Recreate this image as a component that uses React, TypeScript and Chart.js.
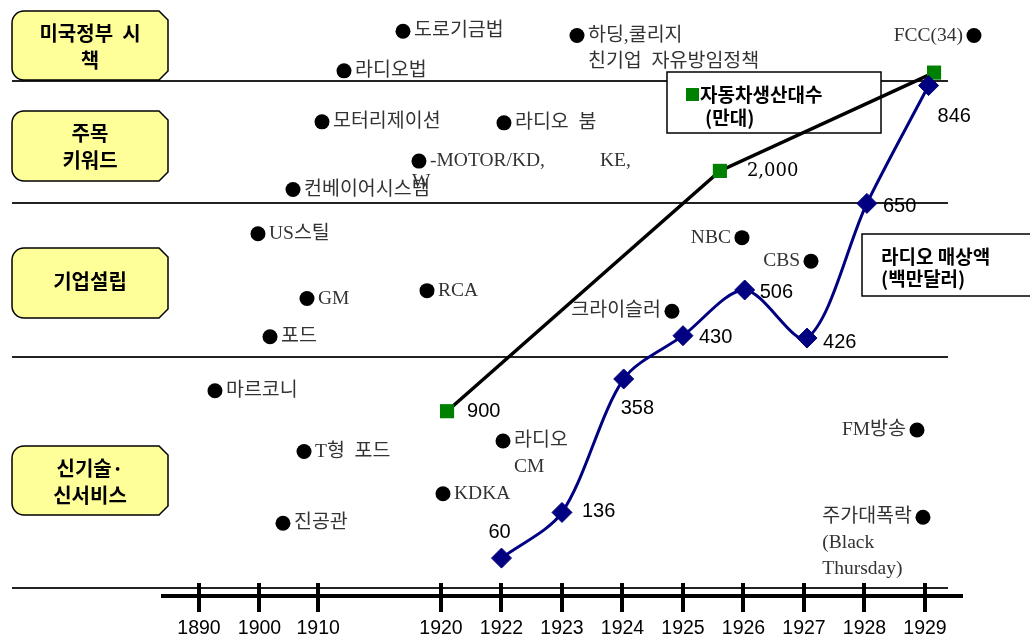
import React, { useEffect, useRef } from "react";
import { Chart, registerables } from "chart.js";

Chart.register(...registerables);

// ---- data ----
const tickLabels = ["1890", "1900", "1910", "1920", "1922", "1923", "1924", "1925", "1926", "1927", "1928", "1929"];
const tickPositions = [0, 1, 1.97, 4, 5, 6, 7, 8, 9, 10, 11, 12];

const radioX = [5, 6, 7.02, 8, 9.02, 10.05, 11.04, 12.06];
const radioSales = [60, 136, 358, 430, 506, 426, 650, 846];
const radioLabels = ["60", "136", "358", "430", "506", "426", "650", "846"];

const carX = [4.1, 8.61, 12.15];
const carProduction = [900, 2000, 2450];
const carLabels = ["900", "2,000", ""];

const eventNames = [
  "도로기금법",
  "하딩,쿨리지\n친기업  자유방임정책",
  "라디오법",
  "FCC(34)",
  "모터리제이션",
  "라디오  붐",
  "-MOTOR/KD,",
  "KE,",
  "W",
  "컨베이어시스템",
  "US스틸",
  "GM",
  "포드",
  "RCA",
  "크라이슬러",
  "NBC",
  "CBS",
  "마르코니",
  "T형  포드",
  "진공관",
  "라디오\nCM",
  "KDKA",
  "FM방송",
  "주가대폭락\n(Black\nThursday)",
];
const eventX = [3.372, 6.248, 2.397, 12.81, 2.033, 5.041, 3.636, 6.628, 3.521, 1.554, 0.975, 1.785, 1.174, 3.769, 7.818, 8.975, 10.116, 0.264, 1.736, 1.388, 5.025, 4.033, 11.868, 11.967];
const eventLevel = [96.53, 95.81, 89.77, 95.81, 81.05, 80.88, 74.34, 74.34, 70.81, 69.48, 61.93, 50.86, 44.32, 52.2, 48.67, 61.26, 57.24, 35.09, 24.69, 12.44, 26.5, 17.48, 28.38, 13.45];
const eventSide = ["R", "R", "R", "L", "R", "R", "R", "T", "T", "R", "R", "R", "R", "R", "L", "L", "L", "R", "R", "R", "R", "R", "L", "L"];

const categoryTexts = [["미국정부  시", "책"], ["주목", "키워드"], ["기업설립"], ["신기술·", "신서비스"]];

// ---- layout / style (pixels) ----
const bandLineY = [81, 203, 357, 588];
const categoryBoxTop = [11, 111, 248, 446];
const categoryBoxBottom = [80, 181, 318, 515];
const radioLabelDx = [-13, 20, -3, 16, 15, 16, 16, 9];
const radioLabelDy = [-26, -1, 30, 2, 3, 4, 3, 31];
const carLabelDx = [20, 27, 0];

const SANS = "'Liberation Sans', Arial, 'Noto Sans CJK KR', sans-serif";
const KR_BOLD = "bold 20px 'Noto Sans CJK KR', sans-serif";
const LEG_BOLD = "bold 19px 'Noto Sans CJK KR', sans-serif";
const EVENT_FONT = "19.5px 'Liberation Serif', 'Noto Sans CJK KR', serif";

function catBox(ctx: CanvasRenderingContext2D, x1: number, y1: number, x2: number, y2: number) {
  const r = 12;
  const c = 9;
  ctx.beginPath();
  ctx.moveTo(x1 + r, y1);
  ctx.lineTo(x2 - c, y1);
  ctx.lineTo(x2, y1 + c);
  ctx.lineTo(x2, y2 - c);
  ctx.lineTo(x2 - c, y2);
  ctx.lineTo(x1 + r, y2);
  ctx.arcTo(x1, y2, x1, y2 - r, r);
  ctx.lineTo(x1, y1 + r);
  ctx.arcTo(x1, y1, x1 + r, y1, r);
  ctx.closePath();
}

const decor = {
  id: "decor",
  beforeDatasetsDraw(chart: any) {
    const ctx: CanvasRenderingContext2D = chart.ctx;
    const xs = chart.scales.x;
    const ye = chart.scales.yE;
    ctx.save();
    // band separator lines
    ctx.strokeStyle = "#222";
    ctx.lineWidth = 2;
    bandLineY.forEach((y) => {
      ctx.beginPath();
      ctx.moveTo(12, y);
      ctx.lineTo(948, y);
      ctx.stroke();
    });
    // category boxes
    categoryTexts.forEach((lines, i) => {
      const t = categoryBoxTop[i];
      const b = categoryBoxBottom[i];
      catBox(ctx, 12, t, 168, b);
      ctx.fillStyle = "#FFFF99";
      ctx.fill();
      ctx.strokeStyle = "#000";
      ctx.lineWidth = 1.5;
      ctx.stroke();
      ctx.fillStyle = "#000";
      ctx.font = KR_BOLD;
      ctx.textAlign = "center";
      ctx.textBaseline = "middle";
      const cy = (t + b) / 2 + (lines.length > 1 ? 1 : -2);
      const gap = 27;
      lines.forEach((ln, j) => {
        ctx.fillText(ln, 90, cy + (j - (lines.length - 1) / 2) * gap);
      });
    });
    // legend boxes
    ctx.fillStyle = "#fff";
    ctx.strokeStyle = "#000";
    ctx.lineWidth = 1.5;
    ctx.fillRect(667, 72, 214, 61);
    ctx.strokeRect(667, 72, 214, 61);
    ctx.fillRect(862, 234, 180, 62);
    ctx.strokeRect(862, 234, 180, 62);
    ctx.fillStyle = "#008000";
    ctx.fillRect(686, 88, 13, 13);
    ctx.fillStyle = "#000";
    ctx.font = LEG_BOLD;
    ctx.textAlign = "left";
    ctx.textBaseline = "middle";
    ctx.fillText("자동차생산대수", 700, 95);
    ctx.fillText("(만대)", 705, 118);
    ctx.fillText("라디오 매상액", 881, 257);
    ctx.fillText("(백만달러)", 881, 279);

    // events
    ctx.font = EVENT_FONT;
    ctx.textBaseline = "middle";
    ctx.textAlign = "left";
    eventNames.forEach((name, i) => {
      const px = xs.getPixelForValue(eventX[i]);
      const py = ye.getPixelForValue(eventLevel[i]);
      const lines = name.split("\n");
      const side = eventSide[i];
      let start = px;
      if (side === "R") start = px + 11;
      else if (side === "L") start = px - 11 - ctx.measureText(lines[0]).width;
      if (side !== "T") {
        ctx.fillStyle = "#000";
        ctx.beginPath();
        ctx.arc(px, py, 7.5, 0, Math.PI * 2);
        ctx.fill();
      }
      ctx.fillStyle = "#333";
      lines.forEach((ln, j) => ctx.fillText(ln, start, py + j * 26));
    });
    ctx.restore();
  },
  afterDatasetsDraw(chart: any) {
    const ctx: CanvasRenderingContext2D = chart.ctx;
    ctx.save();
    ctx.fillStyle = "#000";
    ctx.textAlign = "left";
    ctx.textBaseline = "middle";
    ctx.font = "20px " + SANS;
    const m0 = chart.getDatasetMeta(0);
    radioLabels.forEach((lb, i) => {
      const p = m0.data[i];
      ctx.fillText(lb, p.x + radioLabelDx[i], p.y + radioLabelDy[i]);
    });
    const m1 = chart.getDatasetMeta(1);
    carLabels.forEach((lb, i) => {
      if (!lb) return;
      const p = m1.data[i];
      ctx.font = i === 1 ? "18px 'DejaVu Serif', serif" : "20px " + SANS;
      ctx.fillText(lb, p.x + carLabelDx[i], p.y);
    });
    ctx.restore();
  },
  afterDraw(chart: any) {
    const ctx: CanvasRenderingContext2D = chart.ctx;
    const xs = chart.scales.x;
    const bottom = chart.chartArea.bottom;
    ctx.save();
    ctx.strokeStyle = "#000";
    ctx.lineWidth = 4;
    xs.ticks.forEach((t: any) => {
      const px = Math.round(xs.getPixelForValue(t.value));
      ctx.beginPath();
      ctx.moveTo(px, bottom - 13);
      ctx.lineTo(px, bottom + 16);
      ctx.stroke();
    });
    ctx.restore();
  },
};

export default function App() {
  const ref = useRef<HTMLCanvasElement>(null);
  useEffect(() => {
    const chart = new Chart(ref.current as HTMLCanvasElement, {
      type: "line",
      data: {
        datasets: [
          {
            label: "라디오 매상액",
            data: radioX.map((x, i) => ({ x, y: radioSales[i] })),
            yAxisID: "yR",
            borderColor: "#000080",
            borderWidth: 3,
            tension: 0.3,
            pointStyle: "rectRot",
            pointRadius: 10,
            pointBackgroundColor: "#000080",
            pointBorderColor: "#000080",
            pointBorderWidth: 1,
            fill: false,
          },
          {
            label: "자동차생산대수",
            data: carX.map((x, i) => ({ x, y: carProduction[i] })),
            yAxisID: "yC",
            borderColor: "#000",
            borderWidth: 3.5,
            tension: 0,
            pointStyle: "rect",
            pointRadius: 10,
            pointBackgroundColor: "#008000",
            pointBorderColor: "#008000",
            pointBorderWidth: 0,
            fill: false,
          },
        ],
      } as any,
      options: {
        animation: false,
        responsive: false,
        devicePixelRatio: 1,
        events: [],
        layout: { padding: { left: 163, right: 68, top: 0, bottom: 0 } },
        plugins: { legend: { display: false }, tooltip: { enabled: false } },
        scales: {
          x: {
            type: "linear",
            min: -0.595,
            max: 12.612,
            grid: { display: false, drawTicks: false, tickLength: 0 },
            border: { display: true, color: "#000", width: 4 },
            afterBuildTicks: (s: any) => {
              s.ticks = tickPositions.map((v) => ({ value: v }));
            },
            afterFit: (s: any) => {
              s.height = 42;
            },
            ticks: {
              autoSkip: false,
              maxRotation: 0,
              padding: 21,
              color: "#000",
              font: { family: SANS, size: 19.5 },
              callback: (_v: any, i: number) => tickLabels[i],
            },
          },
          yR: { type: "linear", display: false, min: -3, max: 970 },
          yC: { type: "linear", display: false, min: 54, max: 2732 },
          yE: { type: "linear", display: false, min: 0, max: 100 },
        },
      } as any,
      plugins: [decor],
    });
    return () => chart.destroy();
  }, []);
  return (
    <div style={{ position: "fixed", left: 0, top: 0, width: 1030, height: 638, background: "#fff" }}>
      <canvas ref={ref} width={1030} height={638} style={{ display: "block", width: 1030, height: 638 }} />
    </div>
  );
}
